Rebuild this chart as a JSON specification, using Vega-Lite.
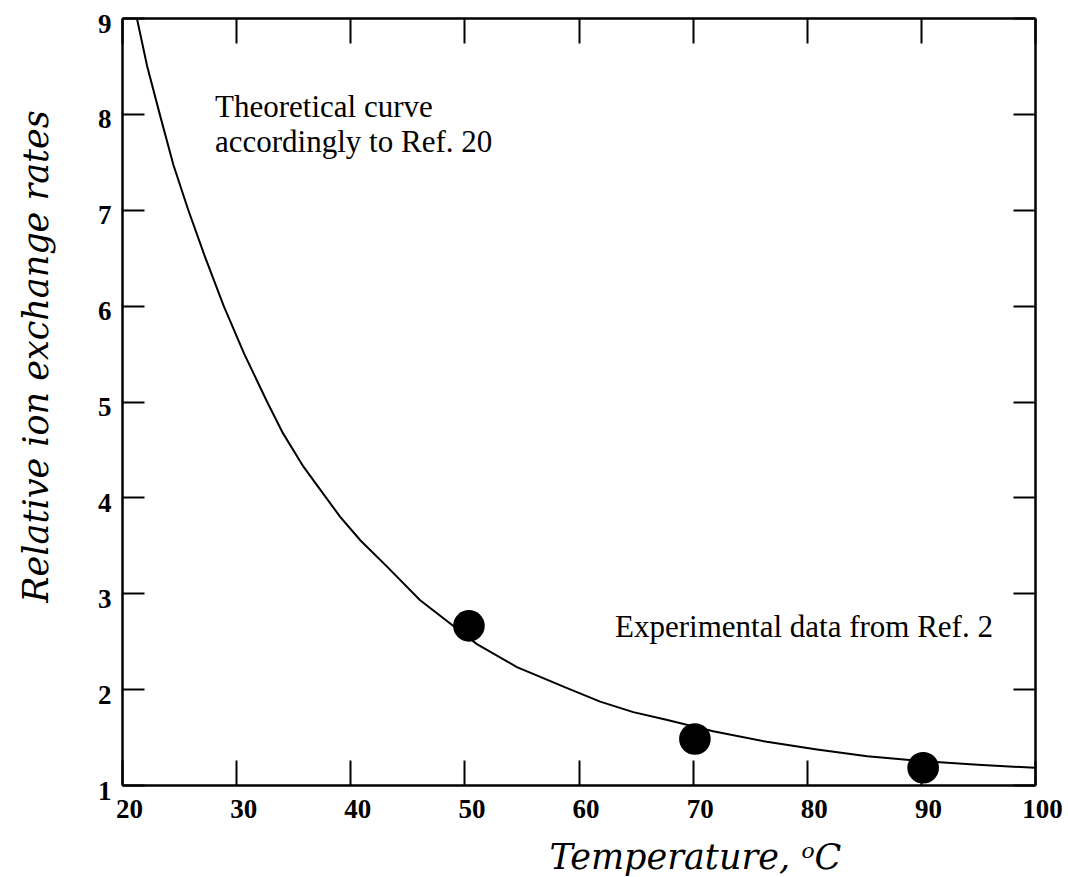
{
  "$schema": "https://vega.github.io/schema/vega-lite/v6.json",
  "width": 913,
  "height": 767,
  "autosize": "none",
  "padding": {"left": 122, "top": 18, "right": 33, "bottom": 92},
  "background": "white",
  "config": {
    "view": {"stroke": null},
    "axis": {
      "grid": false,
      "domainColor": "black",
      "domainWidth": 2.5,
      "tickColor": "black",
      "tickWidth": 2,
      "labelColor": "black",
      "labelFont": "Liberation Serif",
      "labelFontWeight": "bold",
      "labelFontSize": 27,
      "titleColor": "black",
      "titleFont": "DejaVu Serif",
      "titleFontStyle": "italic",
      "titleFontWeight": "normal",
      "titleFontSize": 35
    }
  },
  "datasets": {
    "curve": [
      {"T": 21.3, "rate": 9.0},
      {"T": 22.2, "rate": 8.5},
      {"T": 23.3, "rate": 8.0},
      {"T": 24.5, "rate": 7.47},
      {"T": 25.8, "rate": 7.0},
      {"T": 27.3, "rate": 6.5},
      {"T": 28.9, "rate": 6.0},
      {"T": 30.7, "rate": 5.5},
      {"T": 32.7, "rate": 5.0},
      {"T": 34.1, "rate": 4.67},
      {"T": 35.9, "rate": 4.32},
      {"T": 37.8, "rate": 4.01},
      {"T": 39.1, "rate": 3.8},
      {"T": 40.9, "rate": 3.55},
      {"T": 43.2, "rate": 3.28},
      {"T": 46.1, "rate": 2.93},
      {"T": 48.7, "rate": 2.69},
      {"T": 50.0, "rate": 2.57},
      {"T": 51.1, "rate": 2.47},
      {"T": 54.6, "rate": 2.23},
      {"T": 56.6, "rate": 2.13},
      {"T": 59.0, "rate": 2.01},
      {"T": 61.9, "rate": 1.87},
      {"T": 64.8, "rate": 1.76},
      {"T": 67.7, "rate": 1.68},
      {"T": 71.8, "rate": 1.56},
      {"T": 76.5, "rate": 1.45},
      {"T": 80.9, "rate": 1.37},
      {"T": 85.3, "rate": 1.3},
      {"T": 90.0, "rate": 1.25},
      {"T": 95.0, "rate": 1.21},
      {"T": 100.0, "rate": 1.18}
    ],
    "points": [
      {"T": 50.4, "rate": 2.66},
      {"T": 70.2, "rate": 1.48},
      {"T": 90.2, "rate": 1.18}
    ],
    "notes": [
      {"T": 28.15, "rate": 7.97, "label": "Theoretical curve\naccordingly to Ref. 20"},
      {"T": 63.2, "rate": 2.54, "label": "Experimental data from Ref. 2"}
    ]
  },
  "layer": [
    {
      "data": {"name": "curve"},
      "mark": {"type": "line", "color": "black", "strokeWidth": 2, "clip": true},
      "encoding": {
        "x": {
          "field": "T", "type": "quantitative",
          "scale": {"domain": [20, 100], "nice": false, "zero": false},
          "axis": {
            "orient": "bottom",
            "values": [20, 30, 40, 50, 60, 70, 80, 90, 100],
            "tickSize": -25,
            "labelPadding": 36,
            "labelOffset": 7,
            "labelBaseline": "top",
            "labelFlush": false,
            "title": "Temperature, ᵒC",
            "titleX": 573,
            "titleY": 83,
            "titleAlign": "center",
            "titleBaseline": "alphabetic",
            "titleAnchor": null
          }
        },
        "y": {
          "field": "rate", "type": "quantitative",
          "scale": {"domain": [1, 9], "nice": false, "zero": false},
          "axis": {
            "orient": "left",
            "values": [1, 2, 3, 4, 5, 6, 7, 8, 9],
            "tickSize": -22,
            "labelPadding": 33,
            "labelOffset": 6,
            "labelAlign": "right",
            "labelBaseline": "middle",
            "labelFlush": false,
            "title": "Relative ion exchange rates",
            "titleX": -75,
            "titleY": 338,
            "titleAngle": 270,
            "titleAlign": "center",
            "titleBaseline": "alphabetic",
            "titleAnchor": null
          }
        }
      }
    },
    {
      "data": {"name": "points"},
      "mark": {"type": "point", "shape": "circle", "filled": true, "color": "black", "opacity": 1, "size": 1000},
      "encoding": {
        "x": {
          "field": "T", "type": "quantitative",
          "axis": {
            "orient": "top",
            "values": [20, 30, 40, 50, 60, 70, 80, 90, 100],
            "tickSize": -25,
            "labels": false,
            "title": null
          }
        },
        "y": {
          "field": "rate", "type": "quantitative",
          "axis": {
            "orient": "right",
            "values": [1, 2, 3, 4, 5, 6, 7, 8, 9],
            "tickSize": -22,
            "labels": false,
            "title": null
          }
        }
      }
    },
    {
      "data": {"name": "notes"},
      "mark": {
        "type": "text",
        "align": "left",
        "baseline": "alphabetic",
        "font": "Liberation Serif",
        "fontSize": 31,
        "lineBreak": "\n",
        "lineHeight": 35,
        "color": "black"
      },
      "encoding": {
        "x": {"field": "T", "type": "quantitative", "axis": null},
        "y": {"field": "rate", "type": "quantitative", "axis": null},
        "text": {"field": "label"}
      }
    }
  ],
  "resolve": {"axis": {"x": "independent", "y": "independent"}}
}
